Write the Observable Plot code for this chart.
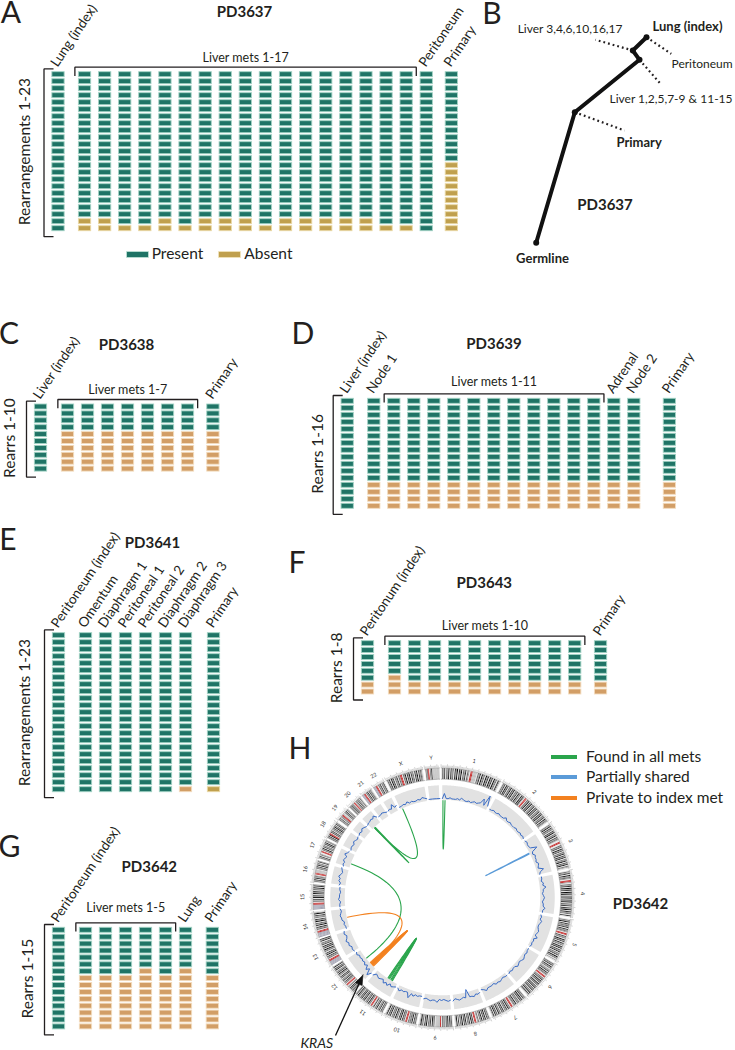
<!DOCTYPE html>
<html>
<head>
<meta charset="utf-8">
<script src="https://cdn.jsdelivr.net/npm/d3@7"></script>
<script src="https://cdn.jsdelivr.net/npm/@observablehq/plot@0.6"></script>
<style>
  html,body{margin:0;padding:0;background:#fff;}
  #fig{position:relative;width:735px;height:1050px;overflow:hidden;font-family:Lato,"Open Sans",sans-serif;color:#231f20;background:#fff;}
  .abs{position:absolute;white-space:nowrap;line-height:1;}
  .c{transform:translate(-50%,-50%);}
  .vc{transform:translateY(-50%);}
  .letter{font-size:30px;font-weight:400;line-height:0.72;}
  .title{font-size:15px;font-weight:700;}
  .leg{font-size:15.5px;}
</style>
</head>
<body>
<div id="fig"></div>
<script>
// ===================== DATA =====================
// P = rearrangement present, A = absent; one string per sample, rows top→bottom
// Panel A — PD3637
const pd3637Samples = ["Lung (index)","Liver met 1","Liver met 2","Liver met 3","Liver met 4","Liver met 5","Liver met 6","Liver met 7","Liver met 8","Liver met 9","Liver met 10","Liver met 11","Liver met 12","Liver met 13","Liver met 14","Liver met 15","Liver met 16","Liver met 17","Peritoneum","Primary"];
const pd3637Calls = [
  "PPPPP PPPPP PPPPP PPPPP PPP",
  "PPPPP PPPPP PPPPP PPPPP PAA",
  "PPPPP PPPPP PPPPP PPPPP PAA",
  "PPPPP PPPPP PPPPP PPPPP PPA",
  "PPPPP PPPPP PPPPP PPPPP PPA",
  "PPPPP PPPPP PPPPP PPPPP PAA",
  "PPPPP PPPPP PPPPP PPPPP PPA",
  "PPPPP PPPPP PPPPP PPPPP PAA",
  "PPPPP PPPPP PPPPP PPPPP PAA",
  "PPPPP PPPPP PPPPP PPPPP PAA",
  "PPPPP PPPPP PPPPP PPPPP PPA",
  "PPPPP PPPPP PPPPP PPPPP PAA",
  "PPPPP PPPPP PPPPP PPPPP PAA",
  "PPPPP PPPPP PPPPP PPPPP PAA",
  "PPPPP PPPPP PPPPP PPPPP PAA",
  "PPPPP PPPPP PPPPP PPPPP PAA",
  "PPPPP PPPPP PPPPP PPPPP PPA",
  "PPPPP PPPPP PPPPP PPPPP PPA",
  "PPPPP PPPPP PPPPP PPPPP PPP",
  "PPPPP PPPPP PPPAA AAAAA AAA"
];
// Panel C — PD3638
const pd3638Samples = ["Liver (index)","Liver met 1","Liver met 2","Liver met 3","Liver met 4","Liver met 5","Liver met 6","Liver met 7","Primary"];
const pd3638Calls = ["PPPPP PPPPP","PPPPA AAAAA","PPPPA AAAAA","PPPPA AAAAA","PPPPA AAAAA","PPPPA AAAAA","PPPPA AAAAA","PPPPA AAAAA","PPPPA AAAAA"];
// Panel D — PD3639
const pd3639Samples = ["Liver (index)","Node 1","Liver met 1","Liver met 2","Liver met 3","Liver met 4","Liver met 5","Liver met 6","Liver met 7","Liver met 8","Liver met 9","Liver met 10","Liver met 11","Adrenal","Node 2","Primary"];
const pd3639Calls = ["PPPPP PPPPP PPPPP P","PPPPP PPPPP PPAAA A","PPPPP PPPPP PPAAA A","PPPPP PPPPP PPAAA A","PPPPP PPPPP PPAAA A","PPPPP PPPPP PPAAA A","PPPPP PPPPP PPAAA A","PPPPP PPPPP PPAAA A","PPPPP PPPPP PPAAA A","PPPPP PPPPP PPAAA A","PPPPP PPPPP PPAAA A","PPPPP PPPPP PPAAA A","PPPPP PPPPP PPAAA A","PPPPP PPPPP PPAAA A","PPPPP PPPPP PPAAA A","PPPPP PPPPP PPAAA A"];
// Panel E — PD3641
const pd3641Samples = ["Peritoneum (index)","Omentum","Diaphragm 1","Peritoneal 1","Peritoneal 2","Diaphragm 2","Diaphragm 3","Primary"];
const pd3641Calls = ["PPPPP PPPPP PPPPP PPPPP PPP","PPPPP PPPPP PPPPP PPPPP PPP","PPPPP PPPPP PPPPP PPPPP PPP","PPPPP PPPPP PPPPP PPPPP PPP","PPPPP PPPPP PPPPP PPPPP PPP","PPPPP PPPPP PPPPP PPPPP PPP","PPPPP PPPPP PPPPP PPPPP PPA","PPPPP PPPPP PPPPP PPPPP PPA"];
// Panel F — PD3643
const pd3643Samples = ["Peritonum (index)","Liver met 1","Liver met 2","Liver met 3","Liver met 4","Liver met 5","Liver met 6","Liver met 7","Liver met 8","Liver met 9","Liver met 10","Primary"];
const pd3643Calls = ["PPPPP PAA","PPPPP AAA","PPPPP PAA","PPPPP PAA","PPPPP PAA","PPPPP PAA","PPPPP PAA","PPPPP PAA","PPPPP PAA","PPPPP PAA","PPPPP PAA","PPPPP PAA"];
// Panel G — PD3642
const pd3642Samples = ["Peritoneum (index)","Liver met 1","Liver met 2","Liver met 3","Liver met 4","Liver met 5","Lung","Primary"];
const pd3642Calls = ["PPPPP PPPPP PPPPP","PPPPP PPAAA AAAAA","PPPPP PPAAA AAAAA","PPPPP PPAAA AAAAA","PPPPP PAAAA AAAAA","PPPPP PPAAA AAAAA","PPPPP PAAAA AAAAA","PPPPP PPAAA AAAAA"];

// Panel B — phylogeny of PD3637 (branch geometry in arbitrary distance units)
const treeNodes = [
  {id:"Germline", x:0, y:0},
  {id:"n1", x:3.86, y:13.06},
  {id:"n2", x:10.33, y:18.3},
  {id:"n3", x:9.66, y:19.23},
  {id:"Lung (index)", x:11.03, y:20.56}
];
const treeTrunk = ["Germline","n1","n2","n3","Lung (index)"];
const treeLeaves = [
  {label:"Primary", from:"n1", x:8.83, y:11.23},
  {label:"Liver 1,2,5,7-9 & 11-15", from:"n2", x:12.43, y:15.9},
  {label:"Liver 3,4,6,10,16,17", from:"n3", x:5.93, y:20.3},
  {label:"Peritoneum", from:"Lung (index)", x:13.5, y:18.9}
];
const treeNodeLabels = ["Lung (index)","Germline"];

// Panel H — circos of PD3642
const chrNames = ["1","2","3","4","5","6","7","8","9","10","11","12","13","14","15","16","17","18","19","20","21","22","X","Y"];
const chrLengthsMb = [249.3,243.2,198.0,191.2,180.9,171.1,159.1,146.4,141.2,135.5,135.0,133.9,115.2,107.3,102.5,90.4,81.2,78.1,59.1,63.0,48.1,51.3,155.3,59.4];
// cytoband stain codes: 0 gneg, 1 gpos25, 2 gpos50, 3 gpos75, 4 gpos100, c acen, v gvar, s stalk
const chrBands = [
  "0213021403120314031402130210ccvvvv021304120413041304120310",
  "021304130214031402130412041310cc0214031402130413021403140213041210",
  "02140312031402140312100cc00213041302140314021403140210",
  "0213041210cc102130413041302140314021403140312030",
  "0214031213041210cc0312041304120314031402130412010",
  "021304120113041210cc0213041304120314031402140310",
  "021304130212041210cc021403120413021403140310",
  "0213041304120210cc0314031204130412030410",
  "0213041302120cvvvvv021403120413021410",
  "02130412120cc021304130214031204130410",
  "0213041204120310cc02140312041304130214031",
  "021403140210cc021304120314021403120413041",
  "ssssscc021304130214031403120413",
  "ssssscc02130412041302130410",
  "ssssscc0213041204130214031",
  "0213041210ccvvvv02130412031",
  "021302100cc021403120314021",
  "021304cc03140213041304120",
  "0213021ccvv0213021",
  "0213041210cc021304120310",
  "ssscc0214031210",
  "ssscc021302130",
  "021304130213021cc0214031403120314031210",
  "0212cc0214vvvvvvvvvv"
];
// copy-number track (offset above baseline), evenly along each chromosome
const cnProfile = [
  [1,6,1,1,2,1,1,1,2,1,3,2,1,1,2,1,2,3,2,3,4,9,3,14,4],
  [2,2,3,2,2,3,2,2,2,4,2,2,3,2,2,2,3,2,2,3,2,3,2],
  [2,3,2,2,3,9,3,2,4,3,3,2,4,3,2,7,3,2],
  [3,3,2,4,3,6,3,3,2,3,4,3,2,3,3,5,3,3],
  [2,3,2,4,3,2,2,3,4,3,2,5,2,3,2,3,2],
  [2,2,3,2,3,4,3,2,3,4,2,2,3,2,3],
  [3,3,2,3,4,3,4,2,3,3,3,5,3,2],
  [4,5,4,6,5,5,-3,5,4,5,6,5,4,6],
  [5,6,5,4,5,4,7,5,5,6,5,4,5],
  [3,3,4,3,5,3,8,3,3,4,3,5,3],
  [3,4,5,3,6,4,6,3,4,5,4,3,6],
  [6,10,4,7,3,5,3,4,3,4,3,5,4],
  [5,6,5,7,6,8,6,5,7,6],
  [3,3,4,3,5,5,6,5,4,5],
  [5,5,4,6,5,5,4,5,5],
  [6,5,7,6,8,6,5,6,7],
  [6,7,6,8,7,6,9,7,6],
  [5,6,6,5,7,6,5,6],
  [6,7,6,8,7,6],
  [6,7,7,8,7,9,6],
  [5,5,6,5,4],
  [4,5,4,8,4,5],
  [2,2,3,2,4,2,3,2,2,3,2,4,3,2],
  [1,1,1,1]
];
// structural variants: [chrA, Mb, chrB, Mb, class]
const svLinks = [
  ["1",8,"1",19,"all"],
  ["20",17,"X",15,"all"],
  ["20",16,"20",21,"all"],
  ["17",25,"12",77,"all"],
  ["11",34,"11",62,"all"],
  ["11",39,"11",57,"all"],
  ["11",44,"11",52,"all"],
  ["14",57,"12",33,"private"],
  ["12",20,"12",46,"private"],
  ["12",24,"12",42,"private"],
  ["12",27,"12",39,"private"],
  ["12",30,"12",36,"private"],
  ["3",70,"3",74,"partial"]
];
const linkClasses = ["all","partial","private"];
const linkClassLabels = ["Found in all mets","Partially shared","Private to index met"];
const krasLocus = ["12", 25.4];

// ===================== STYLE / LAYOUT =====================
const P_FILL = "#1f7466", P_STROKE = "#a3d3c5";
const OLIVE = "#c0a04e", OLIVE_STROKE = "#ead9a6";
const TAN = "#d29e66", TAN_STROKE = "#f3dcbf";
const INK = "#231f20";
const linkColors = {all:"#2aa54c", partial:"#5b9bd8", private:"#f3811f"};
const svgStyle = {background:"transparent", overflow:"visible", fontFamily:"Lato, 'Open Sans', sans-serif", color:INK};

const fig = document.getElementById("fig");
function place(el, left, top){ const d=document.createElement("div"); d.className="abs"; d.style.left=left+"px"; d.style.top=top+"px"; d.appendChild(el); fig.appendChild(d); }
function html(text, x, y, cls, extra){ const d=document.createElement("div"); d.className="abs "+cls; d.style.left=x+"px"; d.style.top=y+"px"; d.textContent=text; if(extra) Object.assign(d.style, extra); fig.appendChild(d); return d; }

function heatPanel(cfg){
  const {samples, calls, box, x0, step, gaps, rowTop, rowStep, absentFill, absentStroke, overrides = {}, group, groupLabelDy = 10, yLabel, yLabelDx} = cfg;
  const rows = calls.map(s => s.replace(/\s/g,""));
  const n = rows[0].length;
  const pos = []; let acc = 0;
  samples.forEach((s,i)=>{ acc += gaps[i] || 0; pos.push(i + acc); });
  const pad = (1 - 5/rowStep)/2;
  const ux = v => v/step, uy = v => v/rowStep;
  const cells = [];
  samples.forEach((s,i)=>{
    for (let r=0;r<n;r++){
      const present = rows[i][r] === "P";
      const ov = overrides[s];
      cells.push({p:pos[i], row:r+1,
        fill: present ? P_FILL : (ov ? ov[0] : absentFill),
        stroke: present ? P_STROKE : (ov ? ov[1] : absentStroke)});
    }
  });
  const hw = ux(6.15);
  const cellTop = 0.5 + pad;
  const lastBottom = n + 0.5 - pad;
  const xB = -ux(14.5), xT = -ux(5);
  const yBT = cellTop - uy(3.3), yBB = lastBottom + uy(5.5);
  const marks = [
    Plot.rect(cells, {x1:d=>d.p-hw, x2:d=>d.p+hw, y1:d=>d.row-0.5+pad, y2:d=>d.row+0.5-pad, fill:"fill", stroke:"stroke", strokeWidth:0.9}),
    Plot.line([[xT,yBT],[xB,yBT],[xB,yBB],[xT,yBB]], {stroke:INK, strokeWidth:1.3, strokeLinejoin:"miter", strokeLinecap:"butt"}),
    Plot.text([yLabel], {x:()=>xB-ux(yLabelDx), y:()=>(n+1)/2, text:d=>d, rotate:-90, fontSize:15.5, fill:INK})
  ];
  if (group){
    const [g0,g1,gl] = group;
    const xa = pos[g0] - ux(6.15 + 4), xb = pos[g1] + ux(6.15 + 3.5);
    const yb = cellTop - uy(5), ye = yb + uy(8.8);
    marks.push(Plot.line([[xa,ye],[xa,yb],[xb,yb],[xb,ye]], {stroke:INK, strokeWidth:1.3, strokeLinejoin:"miter", strokeLinecap:"butt"}));
    marks.push(Plot.text([gl], {x:()=>(xa+xb)/2, y:()=>yb-uy(groupLabelDy), text:d=>d, fontSize:12.5, fill:INK}));
  }
  const lab = samples.map((s,i)=>({s, p:pos[i], i})).filter(d => !group || d.i < group[0] || d.i > group[1]);
  marks.push(Plot.text(lab, {x:d=>d.p-ux(1), y:()=>cellTop-uy(4.5), text:"s", rotate:-56, textAnchor:"start", lineAnchor:"bottom", fontSize:13.5, fill:INK}));
  const svg = Plot.plot({
    width:box.width, height:box.height, margin:0, style:svgStyle,
    color:{type:"identity"},
    x:{domain:[0,1], range:[x0-box.left, x0-box.left+step], axis:null},
    y:{domain:[0.5,1.5], range:[rowTop-box.top-pad*rowStep, rowTop-box.top-pad*rowStep+rowStep], axis:null},
    marks
  });
  place(svg, box.left, box.top);
}

// ---- A
heatPanel({samples:pd3637Samples, calls:pd3637Calls, box:{left:0,top:0,width:480,height:245},
  x0:58, step:20.1, gaps:{1:0.32, 19:0.25}, rowTop:71.7, rowStep:7.0,
  absentFill:OLIVE, absentStroke:OLIVE_STROKE, group:[1,17,"Liver mets 1-17"], groupLabelDy:9.5,
  yLabel:"Rearrangements 1-23", yLabelDx:19.3});
// ---- C
heatPanel({samples:pd3638Samples, calls:pd3638Calls, box:{left:0,top:300,width:290,height:190},
  x0:40.5, step:20, gaps:{1:0.35, 8:0.27}, rowTop:404, rowStep:6.9,
  absentFill:TAN, absentStroke:TAN_STROKE, group:[1,7,"Liver mets 1-7"], groupLabelDy:9.5,
  yLabel:"Rearrs 1-10", yLabelDx:16});
// ---- D
heatPanel({samples:pd3639Samples, calls:pd3639Calls, box:{left:295,top:300,width:440,height:220},
  x0:347.2, step:20, gaps:{1:0.33, 15:0.78}, rowTop:398.3, rowStep:7.0,
  absentFill:TAN, absentStroke:TAN_STROKE, group:[2,12,"Liver mets 1-11"], groupLabelDy:12,
  yLabel:"Rearrs 1-16", yLabelDx:15.6});
// ---- E
heatPanel({samples:pd3641Samples, calls:pd3641Calls, box:{left:0,top:520,width:290,height:280},
  x0:58.5, step:20, gaps:{1:0.35, 7:0.4}, rowTop:632.7, rowStep:7.0,
  absentFill:TAN, absentStroke:TAN_STROKE, overrides:{"Primary":[OLIVE, OLIVE_STROKE]},
  yLabel:"Rearrangements 1-23", yLabelDx:19.3});
// ---- F
heatPanel({samples:pd3643Samples, calls:pd3643Calls, box:{left:290,top:540,width:445,height:160},
  x0:367.5, step:20.02, gaps:{1:0.35, 11:0.29}, rowTop:640.7, rowStep:6.9,
  absentFill:TAN, absentStroke:TAN_STROKE, group:[1,10,"Liver mets 1-10"], groupLabelDy:10,
  yLabel:"Rearrs 1-8", yLabelDx:16.6});
// ---- G
heatPanel({samples:pd3642Samples, calls:pd3642Calls, box:{left:0,top:810,width:290,height:235},
  x0:58.5, step:20, gaps:{1:0.35, 7:0.34}, rowTop:927.3, rowStep:6.9,
  absentFill:TAN, absentStroke:TAN_STROKE, group:[1,5,"Liver mets 1-5"], groupLabelDy:14.5,
  yLabel:"Rearrs 1-15", yLabelDx:16.3});

// ---- A legend
function swatch(x, y, w, fill, stroke){ const d=document.createElement("div"); d.className="abs"; Object.assign(d.style,{left:x+"px", top:(y-2.5)+"px", width:w+"px", height:"5px", background:fill, boxShadow:"0 0 0 0.8px "+stroke}); fig.appendChild(d); }
swatch(127, 254, 20.5, P_FILL, P_STROKE);
html("Present", 151.7, 253.5, "leg vc");
swatch(219, 254, 21, OLIVE, OLIVE_STROKE);
html("Absent", 244.3, 253.5, "leg vc");

// ---- B tree
{
  const node = id => treeNodes.find(d => d.id === id);
  const leafStyle = {
    "Primary": {dx:-8, dy:12, anchor:"start", bold:true},
    "Liver 1,2,5,7-9 & 11-15": {dx:-51, dy:15.7, anchor:"start"},
    "Liver 3,4,6,10,16,17": {dx:27, dy:-10.3, anchor:"end"},
    "Peritoneum": {dx:0.3, dy:10.7, anchor:"start"}
  };
  const nodeStyle = {
    "Lung (index)": {dx:6, dy:-10.7, anchor:"start"},
    "Germline": {dx:6.3, dy:15.7, anchor:"middle"}
  };
  const textMarks = treeLeaves.map(d => {
    const st = leafStyle[d.label];
    return Plot.text([d], {x:"x", y:"y", text:"label", dx:st.dx, dy:st.dy, textAnchor:st.anchor,
      fontSize: st.bold ? 13 : 12, fontWeight: st.bold ? 700 : 400, fill:INK});
  });
  treeNodeLabels.forEach(id => {
    const st = nodeStyle[id];
    textMarks.push(Plot.text([node(id)], {x:"x", y:"y", text:"id", dx:st.dx, dy:st.dy, textAnchor:st.anchor, fontSize:13, fontWeight:700, fill:INK}));
  });
  const svg = Plot.plot({
    width:255, height:280, margin:0, style:svgStyle,
    x:{domain:[0,10], range:[55.7,155.7], axis:null},
    y:{domain:[0,10], range:[242.3,142.3], axis:null},
    marks:[
      Plot.link(treeLeaves, {x1:d=>node(d.from).x, y1:d=>node(d.from).y, x2:"x", y2:"y", stroke:INK, strokeWidth:2.2, strokeDasharray:"1.8,3"}),
      Plot.line(treeTrunk.map(node), {x:"x", y:"y", stroke:"#111", strokeWidth:4, strokeLinejoin:"round", strokeLinecap:"round"}),
      Plot.dot(treeNodes, {x:"x", y:"y", r:3, fill:"#111"}),
      ...textMarks
    ]
  });
  place(svg, 480, 0);
}

// ---- H circos
{
  const deg = Math.PI/180;
  const gapDeg = 0.8, startDeg = -1;
  const totalMb = d3.sum(chrLengthsMb);
  const degPerMb = (360 - gapDeg*chrNames.length)/totalMb;
  const chrStart = {};
  let a = startDeg + gapDeg/2;
  chrNames.forEach((c,i)=>{ chrStart[c] = a; a += chrLengthsMb[i]*degPerMb + gapDeg; });
  const ang = (c, mb) => chrStart[c] + mb*degPerMb;
  const P = (r, t) => [r*Math.sin(t*deg), -r*Math.cos(t*deg)];
  const arc = (r, a0, a1) => { const n = Math.max(2, Math.ceil((a1-a0)/0.5)+1); return d3.range(n).map(k => P(r, a0 + (a1-a0)*k/(n-1))); };
  const stain = {"0":"#e4e4e4","1":"#9d9d9d","2":"#666666","3":"#303030","4":"#050505","c":"#c42b2b","v":"#bdbdbd","s":"#a4a4b4"};

  const grey = [], bands = [], outline = [], ticks = [], labels = [], cn = [];
  chrNames.forEach((c,i)=>{
    const L = chrLengthsMb[i], a0 = chrStart[c], a1 = ang(c, L);
    arc(105, a0+0.45, a1-0.45).forEach(([x,y])=>grey.push({c,x,y}));
    arc(118.3, a0, a1).forEach(([x,y])=>outline.push({k:c+"i",x,y}));
    arc(129.7, a0, a1).forEach(([x,y])=>outline.push({k:c+"o",x,y}));
    const s = chrBands[i];
    for (let k=0;k<s.length;k++){
      const [x1,y1] = P(124, ang(c, L*k/s.length)), [x2,y2] = P(124, ang(c, L*(k+1)/s.length));
      bands.push({x1,y1,x2,y2,col:stain[s[k]]});
    }
    for (const mb of d3.range(0, L, 5)){
      const t = ang(c, mb), big = mb % 25 === 0;
      const [x1,y1] = P(130.3, t), [x2,y2] = P(big ? 133.3 : 132, t);
      ticks.push({x1,y1,x2,y2});
    }
    const [lx,ly] = P(140, ang(c, L/2));
    labels.push({c, x:lx, y:ly, rot:ang(c, L/2)});
    const v = cnProfile[i];
    v.forEach((val,k)=>{
      const mb = L*(0.02 + 0.96*k/(v.length-1));
      const [x,y] = P(98 + val, ang(c, mb));
      cn.push({c,x,y});
    });
  });
  const links = [];
  svLinks.forEach(([ca,pa,cb,pb,cls],li)=>{
    const A = P(97, ang(ca,pa)), B = P(97, ang(cb,pb));
    for (let k=0;k<=40;k++){
      const t = k/40, u = 1-t;
      links.push({li, cls, x:u*u*A[0] + t*t*B[0], y:u*u*A[1] + t*t*B[1]});
    }
  });
  // KRAS pointer: tail offset (layout) → tip at the gene locus
  const kt = ang(krasLocus[0], krasLocus[1]);
  const [kx, ky] = P(111, kt);
  const tail = [-107, 138];
  const len = Math.hypot(kx-tail[0], ky-tail[1]);
  const ux = (kx-tail[0])/len, uy = (ky-tail[1])/len;
  const head = [[kx,ky],[kx-10*ux+3.6*uy, ky-10*uy-3.6*ux],[kx-10*ux-3.6*uy, ky-10*uy+3.6*ux],[kx,ky]];

  const svg = Plot.plot({
    width:445, height:350, margin:0, style:svgStyle,
    color:{type:"identity"},
    x:{domain:[0,1], range:[152,153], axis:null},
    y:{domain:[0,1], range:[197,198], axis:null},
    marks:[
      Plot.line(grey, {x:"x", y:"y", z:"c", stroke:"#e2e2e2", strokeWidth:14.5, strokeLinecap:"butt"}),
      Plot.link(bands, {x1:"x1", y1:"y1", x2:"x2", y2:"y2", stroke:"col", strokeWidth:11, strokeLinecap:"butt"}),
      Plot.line(outline, {x:"x", y:"y", z:"k", stroke:"#777", strokeWidth:0.5}),
      Plot.link(ticks, {x1:"x1", y1:"y1", x2:"x2", y2:"y2", stroke:"#9a9a9a", strokeWidth:0.45}),
      Plot.text(labels, {x:"x", y:"y", text:"c", rotate:"rot", fontSize:5.5, fill:"#333"}),
      Plot.line(cn, {x:"x", y:"y", z:"c", stroke:"#3a6cc6", strokeWidth:1, curve:"linear"}),
      Plot.line(links, {x:"x", y:"y", z:"li", stroke:d=>linkColors[d.cls], strokeWidth:1.1}),
      Plot.link([0], {x1:()=>tail[0], y1:()=>tail[1], x2:()=>kx-8*ux, y2:()=>ky-8*uy, stroke:"#111", strokeWidth:1.3}),
      Plot.line(head, {fill:"#111", stroke:"#111", strokeWidth:0.6}),
      Plot.text(["KRAS"], {x:()=>-125.7, y:()=>146, text:d=>d, fontSize:14, fontStyle:"italic", fill:INK})
    ]
  });
  place(svg, 290, 700);

  // legend
  linkClasses.forEach((k,i)=>{
    const y = [756.7, 777.3, 797.7][i];
    const d = document.createElement("div"); d.className="abs";
    Object.assign(d.style, {left:"551px", top:(y-2)+"px", width:"26px", height:"4px", background:linkColors[k]});
    fig.appendChild(d);
    html(linkClassLabels[i], 586, y, "leg vc");
  });
}

// ---- panel letters & titles
[["A",11,12],["B",492,12.5],["C",9,333],["D",303,333],["E",8,539],["F",297,562],["G",9.5,846],["H",300,748]]
  .forEach(([t,x,y]) => html(t, x, y, "letter c"));
[["PD3637",244.5,11],["PD3637",605,204],["PD3638",126.5,343.5],["PD3639",494,343],["PD3641",152.5,541.5],["PD3643",484.3,582],["PD3642",149.3,865.5],["PD3642",640.5,903.3]]
  .forEach(([t,x,y]) => html(t, x, y, "title c"));
</script>
</body>
</html>
